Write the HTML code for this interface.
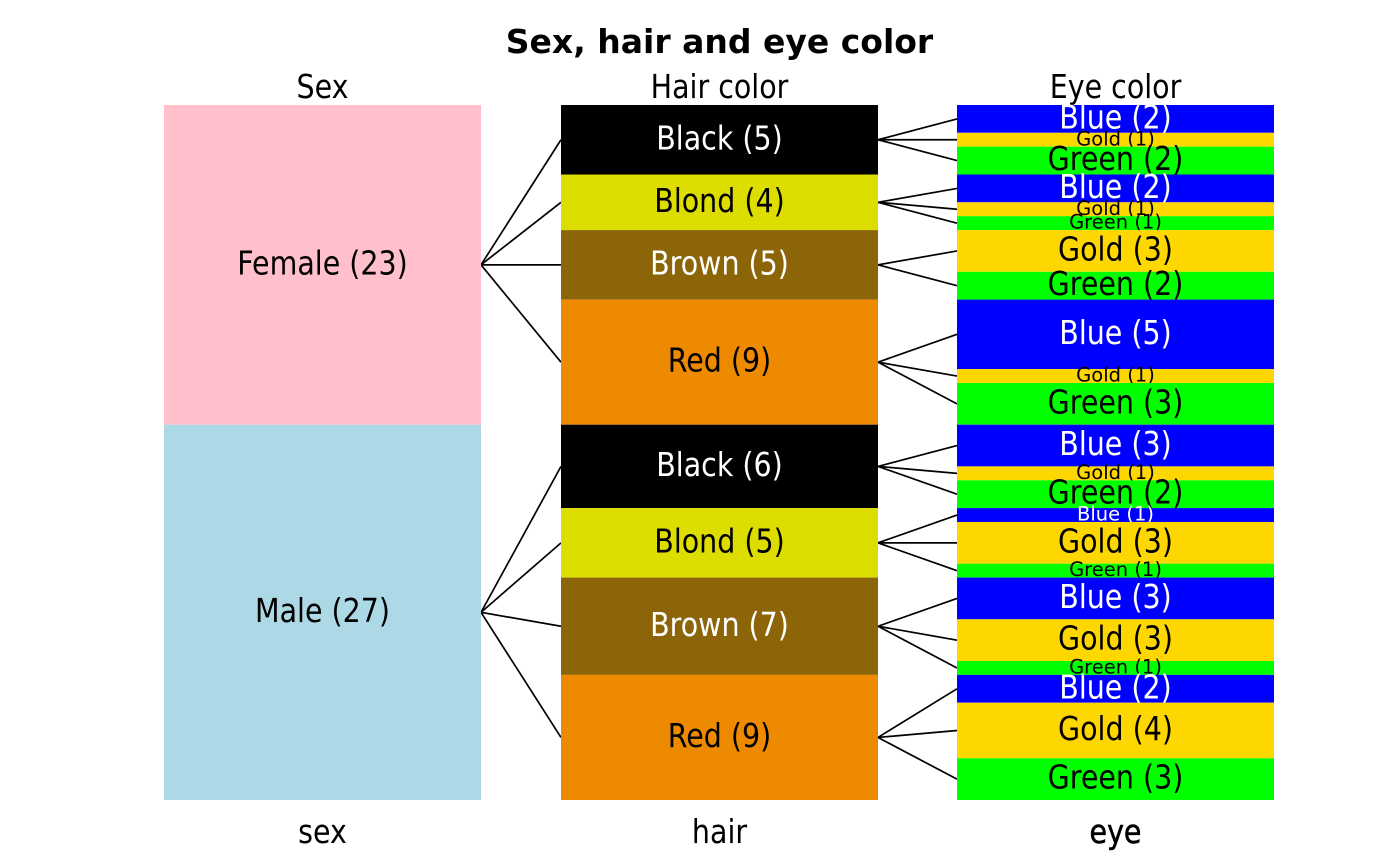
<!DOCTYPE html>
<html>
<head>
<meta charset="utf-8">
<style>
html,body{margin:0;padding:0;background:#fff;}
svg{display:block;}
text{font-family:"DejaVu Sans","Liberation Sans",sans-serif;}
.L{font-size:28.5px;text-anchor:middle;}
.S{font-size:19.5px;text-anchor:middle;}
.w{fill:#fff;}
.k{fill:#000;}
line{stroke:#000;stroke-width:1.7;}
</style>
</head>
<body>
<svg width="1400" height="866" viewBox="0 0 1400 866" xmlns="http://www.w3.org/2000/svg">
<rect x="0" y="0" width="1400" height="866" fill="#fff"/>

<!-- title -->
<text x="719.5" y="53" style="font-size:33px;font-weight:bold;text-anchor:middle;">Sex, hair and eye color</text>

<!-- headers -->
<text class="L" transform="translate(322.5,98) scale(1,1.15)">Sex</text>
<text class="L" transform="translate(719.5,98) scale(1,1.15)">Hair color</text>
<text class="L" transform="translate(1115.5,98) scale(1,1.15)">Eye color</text>

<!-- connectors sex -> hair -->
<line x1="481" y1="264.85" x2="561" y2="139.75"/>
<line x1="481" y1="264.85" x2="561" y2="202.3"/>
<line x1="481" y1="264.85" x2="561" y2="264.85"/>
<line x1="481" y1="264.85" x2="561" y2="362.15"/>
<line x1="481" y1="612.35" x2="561" y2="466.4"/>
<line x1="481" y1="612.35" x2="561" y2="542.85"/>
<line x1="481" y1="612.35" x2="561" y2="626.25"/>
<line x1="481" y1="612.35" x2="561" y2="737.45"/>

<!-- connectors hair -> eye -->
<line x1="878" y1="139.75" x2="957" y2="118.9"/>
<line x1="878" y1="139.75" x2="957" y2="139.75"/>
<line x1="878" y1="139.75" x2="957" y2="160.6"/>
<line x1="878" y1="202.3" x2="957" y2="188.4"/>
<line x1="878" y1="202.3" x2="957" y2="209.25"/>
<line x1="878" y1="202.3" x2="957" y2="223.15"/>
<line x1="878" y1="264.85" x2="957" y2="250.95"/>
<line x1="878" y1="264.85" x2="957" y2="285.7"/>
<line x1="878" y1="362.15" x2="957" y2="334.35"/>
<line x1="878" y1="362.15" x2="957" y2="376.05"/>
<line x1="878" y1="362.15" x2="957" y2="403.85"/>
<line x1="878" y1="466.4" x2="957" y2="445.55"/>
<line x1="878" y1="466.4" x2="957" y2="473.35"/>
<line x1="878" y1="466.4" x2="957" y2="494.2"/>
<line x1="878" y1="542.85" x2="957" y2="515.05"/>
<line x1="878" y1="542.85" x2="957" y2="542.85"/>
<line x1="878" y1="542.85" x2="957" y2="570.65"/>
<line x1="878" y1="626.25" x2="957" y2="598.45"/>
<line x1="878" y1="626.25" x2="957" y2="640.15"/>
<line x1="878" y1="626.25" x2="957" y2="667.95"/>
<line x1="878" y1="737.45" x2="957" y2="688.8"/>
<line x1="878" y1="737.45" x2="957" y2="730.5"/>
<line x1="878" y1="737.45" x2="957" y2="779.15"/>

<!-- sex column -->
<rect x="164" y="105" width="317" height="319.7" fill="#FFC0CB"/>
<text class="L k" transform="translate(322.5,274.35) scale(1,1.15)">Female (23)</text>
<rect x="164" y="424.7" width="317" height="375.3" fill="#ADD8E6"/>
<text class="L k" transform="translate(322.5,621.85) scale(1,1.15)">Male (27)</text>

<!-- hair column -->
<rect x="561" y="105" width="317" height="69.5" fill="#000000"/>
<text class="L w" transform="translate(719.5,149.25) scale(1,1.15)">Black (5)</text>
<rect x="561" y="174.5" width="317" height="55.6" fill="#DDDD00"/>
<text class="L k" transform="translate(719.5,211.8) scale(1,1.15)">Blond (4)</text>
<rect x="561" y="230.1" width="317" height="69.5" fill="#8B6508"/>
<text class="L w" transform="translate(719.5,274.35) scale(1,1.15)">Brown (5)</text>
<rect x="561" y="299.6" width="317" height="125.1" fill="#EE8A00"/>
<text class="L k" transform="translate(719.5,371.65) scale(1,1.15)">Red (9)</text>
<rect x="561" y="424.7" width="317" height="83.4" fill="#000000"/>
<text class="L w" transform="translate(719.5,475.9) scale(1,1.15)">Black (6)</text>
<rect x="561" y="508.1" width="317" height="69.5" fill="#DDDD00"/>
<text class="L k" transform="translate(719.5,552.35) scale(1,1.15)">Blond (5)</text>
<rect x="561" y="577.6" width="317" height="97.3" fill="#8B6508"/>
<text class="L w" transform="translate(719.5,635.75) scale(1,1.15)">Brown (7)</text>
<rect x="561" y="674.9" width="317" height="125.1" fill="#EE8A00"/>
<text class="L k" transform="translate(719.5,746.95) scale(1,1.15)">Red (9)</text>

<!-- eye column -->
<rect x="957" y="105" width="317" height="27.8" fill="#0000FF"/>
<text class="L w" transform="translate(1115.5,128.4) scale(1,1.15)">Blue (2)</text>
<rect x="957" y="132.8" width="317" height="13.9" fill="#FFD700"/>
<text class="S k" x="1115.5" y="145.25">Gold (1)</text>
<rect x="957" y="146.7" width="317" height="27.8" fill="#00FF00"/>
<text class="L k" transform="translate(1115.5,170.1) scale(1,1.15)">Green (2)</text>

<rect x="957" y="174.5" width="317" height="27.8" fill="#0000FF"/>
<text class="L w" transform="translate(1115.5,197.9) scale(1,1.15)">Blue (2)</text>
<rect x="957" y="202.3" width="317" height="13.9" fill="#FFD700"/>
<text class="S k" x="1115.5" y="214.75">Gold (1)</text>
<rect x="957" y="216.2" width="317" height="13.9" fill="#00FF00"/>
<text class="S k" x="1115.5" y="228.65">Green (1)</text>

<rect x="957" y="230.1" width="317" height="41.7" fill="#FFD700"/>
<text class="L k" transform="translate(1115.5,260.45) scale(1,1.15)">Gold (3)</text>
<rect x="957" y="271.8" width="317" height="27.8" fill="#00FF00"/>
<text class="L k" transform="translate(1115.5,295.2) scale(1,1.15)">Green (2)</text>

<rect x="957" y="299.6" width="317" height="69.5" fill="#0000FF"/>
<text class="L w" transform="translate(1115.5,343.85) scale(1,1.15)">Blue (5)</text>
<rect x="957" y="369.1" width="317" height="13.9" fill="#FFD700"/>
<text class="S k" x="1115.5" y="381.55">Gold (1)</text>
<rect x="957" y="383" width="317" height="41.7" fill="#00FF00"/>
<text class="L k" transform="translate(1115.5,413.35) scale(1,1.15)">Green (3)</text>

<rect x="957" y="424.7" width="317" height="41.7" fill="#0000FF"/>
<text class="L w" transform="translate(1115.5,455.05) scale(1,1.15)">Blue (3)</text>
<rect x="957" y="466.4" width="317" height="13.9" fill="#FFD700"/>
<text class="S k" x="1115.5" y="478.85">Gold (1)</text>
<rect x="957" y="480.3" width="317" height="27.8" fill="#00FF00"/>
<text class="L k" transform="translate(1115.5,503.7) scale(1,1.15)">Green (2)</text>

<rect x="957" y="508.1" width="317" height="13.9" fill="#0000FF"/>
<text class="S w" x="1115.5" y="520.55">Blue (1)</text>
<rect x="957" y="522" width="317" height="41.7" fill="#FFD700"/>
<text class="L k" transform="translate(1115.5,552.35) scale(1,1.15)">Gold (3)</text>
<rect x="957" y="563.7" width="317" height="13.9" fill="#00FF00"/>
<text class="S k" x="1115.5" y="576.15">Green (1)</text>

<rect x="957" y="577.6" width="317" height="41.7" fill="#0000FF"/>
<text class="L w" transform="translate(1115.5,607.95) scale(1,1.15)">Blue (3)</text>
<rect x="957" y="619.3" width="317" height="41.7" fill="#FFD700"/>
<text class="L k" transform="translate(1115.5,649.65) scale(1,1.15)">Gold (3)</text>
<rect x="957" y="661" width="317" height="13.9" fill="#00FF00"/>
<text class="S k" x="1115.5" y="673.45">Green (1)</text>

<rect x="957" y="674.9" width="317" height="27.8" fill="#0000FF"/>
<text class="L w" transform="translate(1115.5,698.3) scale(1,1.15)">Blue (2)</text>
<rect x="957" y="702.7" width="317" height="55.6" fill="#FFD700"/>
<text class="L k" transform="translate(1115.5,740) scale(1,1.15)">Gold (4)</text>
<rect x="957" y="758.3" width="317" height="41.7" fill="#00FF00"/>
<text class="L k" transform="translate(1115.5,788.65) scale(1,1.15)">Green (3)</text>

<!-- bottom labels -->
<text class="L k" transform="translate(322.5,843) scale(1,1.15)">sex</text>
<text class="L k" transform="translate(719.5,843) scale(1,1.15)">hair</text>
<text class="L k" transform="translate(1115.5,843) scale(1,1.15)" style="stroke:#000;stroke-width:0.5;">eye</text>
</svg>
</body>
</html>
